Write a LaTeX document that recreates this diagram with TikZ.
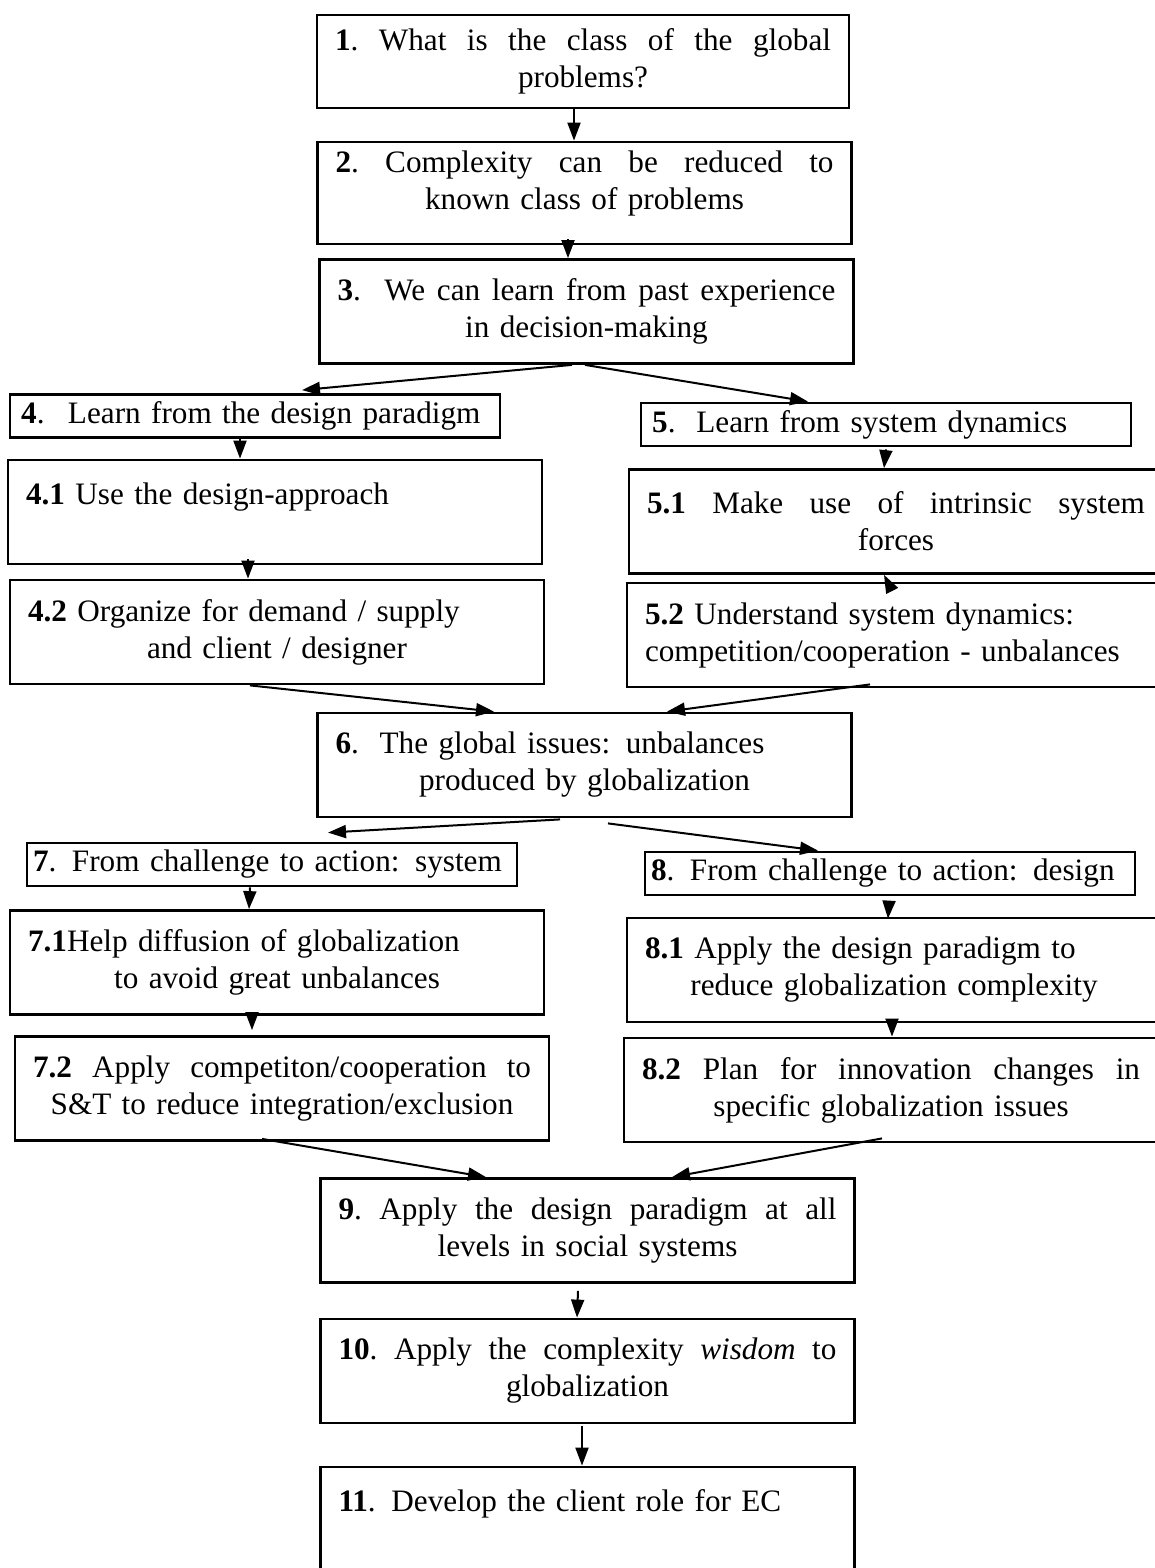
\documentclass[tikz,border=0pt]{standalone}
\usepackage{fontspec}
\setmainfont{Liberation Serif}
\usepackage{tikz}
\usetikzlibrary{arrows.meta,calc}

\newcommand{\justline}[1]{{\spaceskip=0.25em plus 1fil\xspaceskip=0.25em plus 1fil\makebox[\linewidth][s]{#1}}}
\newcommand{\flushline}[1]{\makebox[\linewidth][l]{#1}}

\tikzset{
    box/.style={draw, line width=1.4pt, align=center, inner xsep=9pt, inner ysep=0pt,
        font=\fontsize{15.6}{18.5}\selectfont},
    wide/.style={box, text width=249pt, minimum height=52pt},
    narrow/.style={box, align=left, inner xsep=3pt, text width=239pt, minimum height=21.5pt},
    arr/.style={line width=1pt, -{Triangle[length=9pt,width=6.5pt]}},
}

\begin{document}
\begin{tikzpicture}[x=0.5pt, y=-0.5pt]
    \useasboundingbox (0,0) rectangle (1155,1568);

    \node[wide, text width=248pt, minimum height=46.5pt] (b1) at (583,61.5)   {\justline{\textbf{1}. What is the class of the global}\\ problems?};
    \node[wide, minimum height=51pt]                    (b2) at (584.5,193)  {\justline{\textbf{2}. Complexity can be reduced to}\\ known class of problems\\[-6pt]~};
    \node[wide]                                         (b3) at (586.5,311.5) {\justline{\textbf{3}.\ \ We can learn from past experience}\\ in decision-making};

    \node[narrow] (b4) at (255,416)   {\,\textbf{4}.\hspace{0.75em}Learn from the design paradigm};
    \node[narrow] (b5) at (886,424.5) {\,\textbf{5}.\ \ Learn from system dynamics};

    \node[wide, align=left] (b41) at (275,512)   {\textbf{4.1} Use the design-approach\\ ~};
    \node[wide]             (b51) at (896,521.5) {\justline{\textbf{5.1} Make use of intrinsic system}\\ forces};
    \node[wide]             (b42) at (277,632)   {\flushline{\textbf{4.2} Organize for demand / supply}\\ and client / designer};
    \node[wide, align=left] (b52) at (894,635)   {\textbf{5.2} Understand system dynamics:\\ competition/cooperation - unbalances};

    \node[wide] (b6) at (584.5,765) {\flushline{\textbf{6}.\ \ The global issues: unbalances}\\ produced by globalization};

    \node[narrow] (b7) at (272,864.5) {\textbf{7}. From challenge to action: system};
    \node[narrow] (b8) at (890,873.5) {\textbf{8}. From challenge to action: design};

    \node[wide] (b71) at (277,962.5)  {\flushline{\textbf{7.1}Help diffusion of globalization}\\ to avoid great unbalances};
    \node[wide] (b81) at (894,970)    {\flushline{\textbf{8.1} Apply the design paradigm to}\\ reduce globalization complexity};
    \node[wide] (b72) at (282,1088.5) {\justline{\textbf{7.2} Apply competiton/cooperation to}\\ S\&T to reduce integration/exclusion};
    \node[wide] (b82) at (891,1090)   {\justline{\textbf{8.2} Plan for innovation changes in}\\ specific globalization issues};

    \node[wide]             (b9)  at (587.5,1230.5) {\justline{\textbf{9}. Apply the design paradigm at all}\\ levels in social systems};
    \node[wide]             (b10) at (587.5,1371)   {\justline{\textbf{10}. Apply the complexity \textit{wisdom} to}\\ globalization};
    \node[wide, align=left] (b11) at (587.5,1519)   {\textbf{11}. Develop the client role for EC\\ ~};

    \draw[arr] ($(b1.south)+(-9,0)$)     -- ($(b2.north)+(-10.5,0)$);
    \draw[arr] ($(b2.south)+(-16.5,-6)$) -- ($(b3.north)+(-18.5,0)$);
    \draw[arr] ($(b3.south)+(-14.5,0)$)  -- ($(b4.north)+(47,-3)$);
    \draw[arr] ($(b3.south)+(-1.5,0)$)   -- ($(b5.north)+(-78,0)$);
    \draw[arr] ($(b4.south)+(-15,0)$)    -- ($(b41.north)+(-35,0)$);
    \draw[arr] ($(b5.south)+(0,2)$)      -- ($(b51.north)+(-12,0)$);
    \draw[arr] ($(b41.south)+(-27,-6)$)  -- ($(b42.north)+(-29,0)$);
    \draw[arr] ($(b52.north)+(-2,9)$)    -- ($(b51.south)+(-12,0)$);
    \draw[arr] ($(b42.south)+(-27,0)$)   -- ($(b6.north)+(-90.5,0)$);
    \draw[arr] ($(b52.south)+(-24,-4)$)  -- ($(b6.north)+(82.5,0)$);
    \draw[arr] ($(b6.south)+(-24.5,1)$)  -- ($(b7.north)+(56,-9)$);
    \draw[arr] ($(b6.south)+(23.5,5)$)   -- ($(b8.north)+(-72,0)$);
    \draw[arr] ($(b7.south)+(-22,0)$)    -- ($(b71.north)+(-28,0)$);
    \draw[arr] ($(b8.south)+(-1,5)$)     -- ($(b81.north)+(-6,2)$);
    \draw[arr] ($(b71.south)+(-25,-2)$)  -- ($(b72.north)+(-30,-5)$);
    \draw[arr] ($(b81.south)+(-2,-4)$)   -- ($(b82.north)+(1,0)$);
    \draw[arr] ($(b72.south)+(-20,-3)$)  -- ($(b9.north)+(-101.5,0)$);
    \draw[arr] ($(b82.south)+(-9,-5)$)   -- ($(b9.north)+(84.5,0)$);
    \draw[arr] ($(b9.south)+(-9.5,7)$)   -- ($(b10.north)+(-10.5,0)$);
    \draw[arr] ($(b10.south)+(-5.5,2)$)  -- ($(b11.north)+(-5.5,0)$);
\end{tikzpicture}
\end{document}
